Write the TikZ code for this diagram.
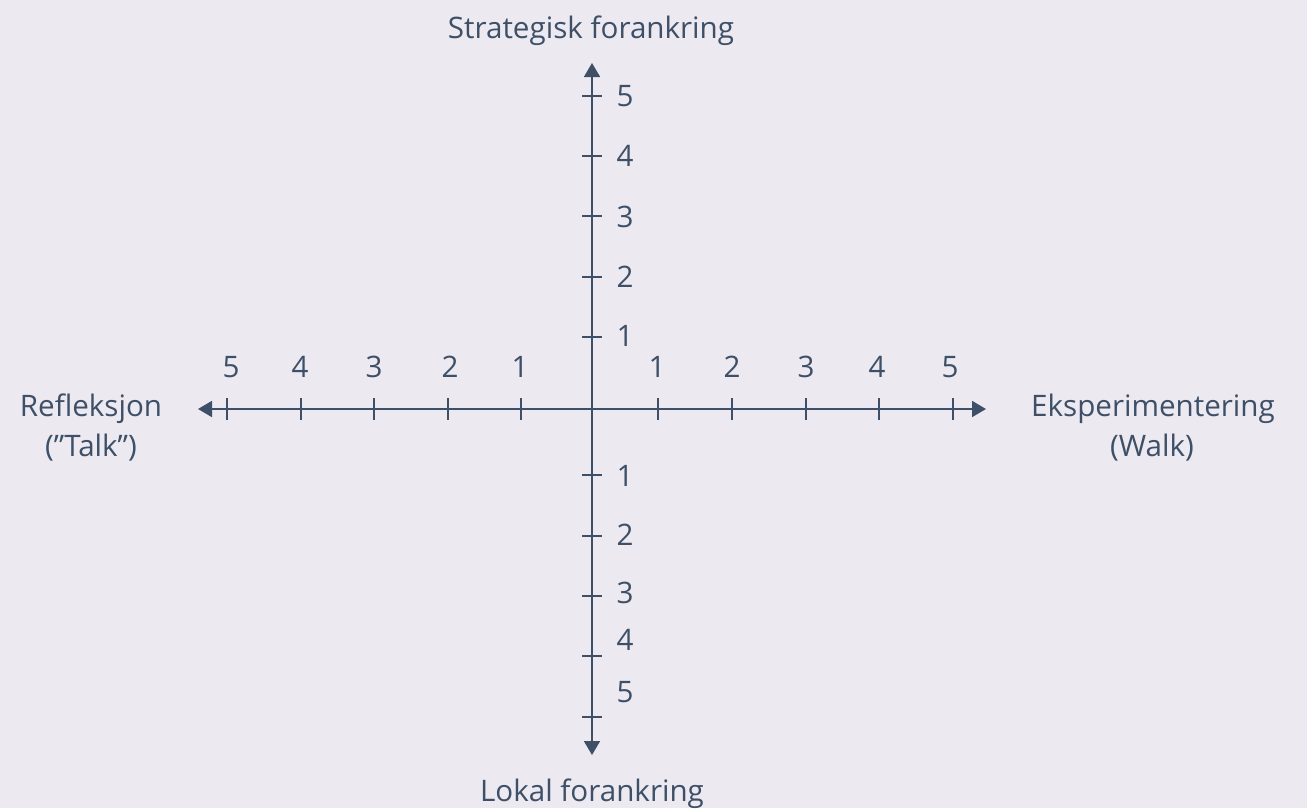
\documentclass[tikz,border=0pt]{standalone}
\usepackage{fontspec}
\setmainfont{Open Sans}
\usetikzlibrary{arrows.meta}
\definecolor{bgc}{HTML}{ECE9F0}
\definecolor{ink}{HTML}{3D5068}
\tikzset{
  axisline/.style={draw=ink, line width=1.8bp, -{Triangle[width=16bp,length=14bp]}},
  tickline/.style={draw=ink, line width=1.4bp},
  num/.style={text=ink, font=\fontsize{29.7}{35}\selectfont, inner sep=0pt, anchor=center},
  title/.style={text=ink, font=\fontsize{29.7}{35}\selectfont, inner sep=0pt, anchor=base},
}
\begin{document}
\begin{tikzpicture}[x=1bp, y=-1bp]
  \fill[bgc] (0,0) rectangle (1307,808);
  \useasboundingbox (0,0) rectangle (1307,808);

  % axis end points
  \coordinate (top) at (592,63);
  \coordinate (bottom) at (592,755);
  \coordinate (left) at (198,409);
  \coordinate (right) at (986,409);
  \coordinate (vstart) at (592,409);

  % axes, each drawn from the origin outwards
  \draw[axisline] (vstart) -- (top);
  \draw[axisline] (vstart) -- (bottom);
  \draw[axisline] (vstart) -- (left);
  \draw[axisline] (vstart) -- (right);

  % ticks on the horizontal axis
  \foreach \x in {227,301,374,448,521,658,732,806,879,953}
    \draw[tickline] (\x,398) -- (\x,420);
  % ticks on the vertical axis
  \foreach \y in {96,156,216,277,337,475,536,596,656,717}
    \draw[tickline] (582,\y) -- (602,\y);

  % scale labels, horizontal axis
  \foreach \x/\t [count=\i] in {231/5,300/4,374/3,450/2,520/1,657/1,732/2,806/3,877/4,950/5}
    \node[num] (h\i) at (\x,367) {\t};
  % scale labels, vertical axis
  \foreach \y/\t [count=\i] in {96.5/5,156/4,217/3,277/2,336/1,476/1,534.5/2,593/3,640/4,692/5}
    \node[num] (v\i) at (625,\y) {\t};

  % axis titles
  \node[title] (strat) at (591,39) {Strategisk forankring};
  \node[title] (lokal) at (592,801) {Lokal forankring};
  \node[title] (refl1) at (91,416) {Refleksjon};
  \node[title] (refl2) at (91,456) {(”Talk”)};
  \node[title] (eksp1) at (1153,416) {Eksperimentering};
  \node[title] (eksp2) at (1152,456) {(Walk)};
\end{tikzpicture}
\end{document}
